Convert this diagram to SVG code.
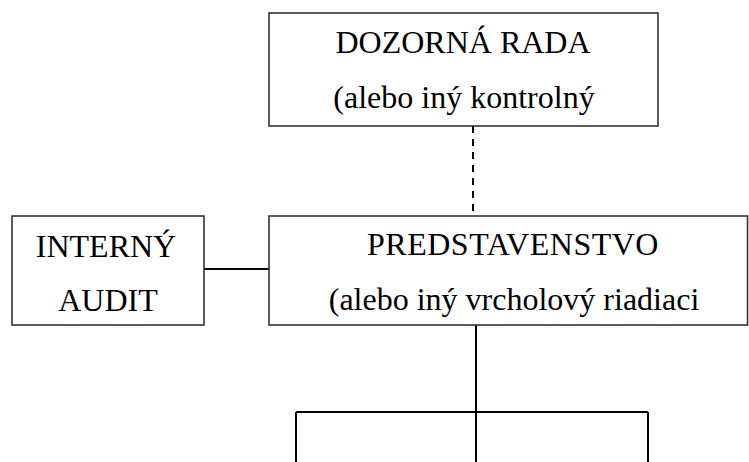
<svg xmlns="http://www.w3.org/2000/svg" width="749" height="462" viewBox="0 0 749 462">
  <style>
    .box { fill: #ffffff; stroke: #333333; stroke-width: 1.6; }
    .lbl { font-family: "Liberation Serif", "Times New Roman", serif; font-size: 32px; fill: #000000; text-anchor: middle; }
    .wide { letter-spacing: 0.5px; }
    .link { fill: none; stroke: #000000; stroke-width: 2; }
    .dash { stroke-dasharray: 7 6; }
  </style>
  <rect width="749" height="462" fill="#ffffff"/>

  <!-- connectors -->
  <g id="connectors">
    <line class="link dash" x1="473" y1="126" x2="473" y2="216"/>
    <line class="link" x1="204" y1="269" x2="269" y2="269"/>
    <line class="link" x1="476" y1="325" x2="476" y2="412"/>
    <line class="link" x1="296" y1="412" x2="648" y2="412"/>
    <line class="link" x1="296" y1="412" x2="296" y2="462"/>
    <line class="link" x1="476" y1="412" x2="476" y2="462"/>
    <line class="link" x1="648" y1="412" x2="648" y2="462"/>
  </g>

  <!-- supervisory board -->
  <g id="dozorna-rada">
    <rect class="box" x="269" y="13" width="389" height="113"/>
    <text class="lbl" x="463" y="53">DOZORNÁ RADA</text>
    <text class="lbl" x="464" y="108">(alebo iný kontrolný</text>
  </g>

  <!-- internal audit -->
  <g id="interny-audit">
    <rect class="box" x="12" y="216" width="192" height="109"/>
    <text class="lbl" x="106" y="257">INTERNÝ</text>
    <text class="lbl" x="108" y="311">AUDIT</text>
  </g>

  <!-- board of directors -->
  <g id="predstavenstvo">
    <rect class="box" x="269" y="216" width="478.5" height="109"/>
    <text class="lbl wide" x="513" y="255">PREDSTAVENSTVO</text>
    <text class="lbl" x="514" y="310">(alebo iný vrcholový riadiaci</text>
  </g>
</svg>
